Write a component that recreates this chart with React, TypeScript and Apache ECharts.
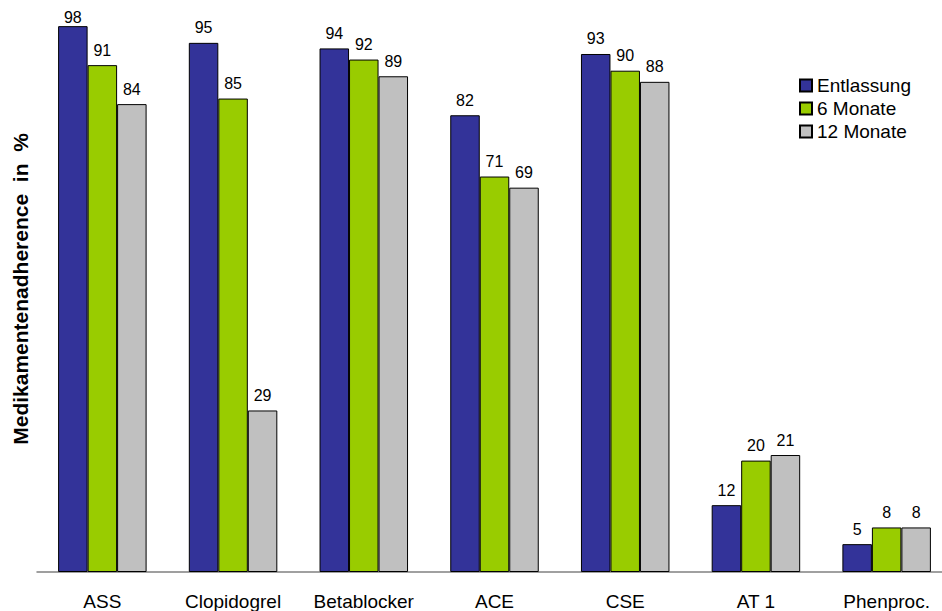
import React, { useEffect, useRef } from "react";
import * as echarts from "echarts";

const categories = ["ASS", "Clopidogrel", "Betablocker", "ACE", "CSE", "AT 1", "Phenproc."];
const entlassung = [98, 95, 94, 82, 93, 12, 5];
const sechsMonate = [91, 85, 92, 71, 90, 20, 8];
const zwoelfMonate = [84, 29, 89, 69, 88, 21, 8];
const seriesNames = ["Entlassung", "6 Monate", "12 Monate"];
const colors = ["#333399", "#99CC00", "#C0C0C0"];

export default function App() {
  const ref = useRef<HTMLDivElement>(null);
  useEffect(() => {
    const chart = echarts.init(ref.current!, null, { renderer: "svg" });
    const data = [entlassung, sechsMonate, zwoelfMonate];
    const font = "Liberation Sans, Arial, sans-serif";
    chart.setOption({
      animation: false,
      textStyle: { fontFamily: font },
      grid: { left: 37, top: 15, right: 8, bottom: 38, containLabel: false },
      legend: {
        orient: "vertical",
        left: 799,
        top: 76,
        padding: 0,
        itemWidth: 12,
        itemHeight: 12,
        itemGap: 4,
        icon: "rect",
        textStyle: { fontSize: 19, color: "#000", fontFamily: font },
        data: seriesNames,
      },
      xAxis: {
        type: "category",
        data: categories,
        axisLine: { lineStyle: { color: "#808080", width: 1.5 } },
        axisTick: { show: false },
        axisLabel: { fontSize: 19, color: "#000", margin: 20, fontFamily: font },
      },
      yAxis: {
        type: "value",
        min: 0,
        max: 100,
        splitLine: { show: false },
        axisLine: { show: false },
        axisTick: { show: false },
        axisLabel: { show: false },
      },
      graphic: [
        {
          type: "text",
          x: 20,
          y: 289,
          rotation: Math.PI / 2,
          style: {
            text: "Medikamentenadherence  in  %",
            fontSize: 21,
            fontWeight: "bold",
            fill: "#000",
            align: "center",
            verticalAlign: "middle",
            fontFamily: font,
          },
        },
      ],
      series: seriesNames.map((name, i) => ({
        name,
        type: "bar",
        data: data[i].map((v) =>
          v >= 97 ? { value: v, label: { distance: 1 } } : v
        ),
        barWidth: 29.5,
        barGap: "0%",
        itemStyle: { color: colors[i], borderColor: "#000", borderWidth: 1 },
        label: { show: true, position: "top", distance: 7, fontSize: 16, color: "#000", fontFamily: font },
      })),
    });
    return () => chart.dispose();
  }, []);
  return (
    <div style={{ position: "absolute", left: 0, top: 0, width: 942, height: 611, overflow: "hidden", background: "#fff" }}>
      <div ref={ref} style={{ width: 960, height: 611 }} />
    </div>
  );
}
